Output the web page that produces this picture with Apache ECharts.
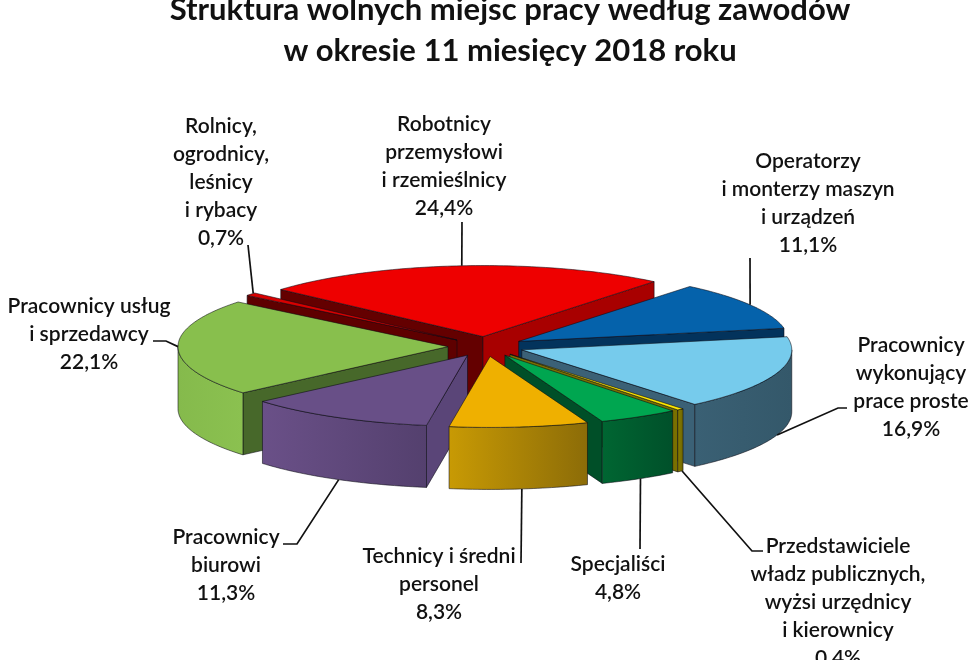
<!DOCTYPE html>
<html><head><meta charset="utf-8">
<style>html,body{margin:0;padding:0;background:#fff}#c{width:980px;height:660px}</style>
<script src="https://cdn.jsdelivr.net/npm/echarts@6/dist/echarts.min.js"></script>
</head><body><div id="c"></div>
<script>
// ---- data ----
const categories = [
  'Robotnicy\nprzemysłowi\ni rzemieślnicy',
  'Operatorzy\ni monterzy maszyn\ni urządzeń',
  'Pracownicy\nwykonujący\nprace proste',
  'Przedstawiciele\nwładz publicznych,\nwyżsi urzędnicy\ni kierownicy',
  'Specjaliści',
  'Technicy i średni\npersonel',
  'Pracownicy\nbiurowi',
  'Pracownicy usług\ni sprzedawcy',
  'Rolnicy,\nogrodnicy,\nleśnicy\ni rybacy'
];
const shares = [24.4, 11.1, 16.9, 0.4, 4.8, 8.3, 11.3, 22.1, 0.7];
const titleLines = ['Struktura wolnych miejsc pracy według zawodów', 'w okresie 11 miesięcy 2018 roku'];

// ---- styling and layout ----
const topColors   = ['#ee0000','#0562ab','#76cbec','#ffe800','#00a650','#efb000','#684f87','#88bf4d','#d80000'];
const wallColors  = ['#a80000','#03335c','#3b6176','#7a7000','#004f28','#8a6a08','#5a4578','#47682a','#5e0000'];
const leftWall    = ['#640000','#03335c','#3b6176','#7a7000','#004f28','#8a6a08','#5a4578','#47682a','#5e0000'];
const outerLeft   = ['#a80000','#03335c','#3a6074','#8a7e00','#006632','#c89a04','#6a5088','#85ba4c','#5e0000'];
const outerRight  = ['#a80000','#03335c','#34586a','#6e6500','#00502a','#8c6c08','#54406e','#8bc150','#5e0000'];
const paintOrder  = [0, 8, 1, 7, 2, 3, 6, 4, 5];
const CX = 486, CY = 346.5, RX = 270, RY = 71, DEPTH = 62, EXPLODE = 38, START = -48.5;
const labelCentres = [[444,166],[808,203],[911,387],[838,602],[618,578],[439,584],[226,565],[89,334],[221,182]];
const leaderPaths = {
  0:[[462,222]], 1:[[750,258]], 2:[[847,408],[838,408]], 3:[[763,551],[752,551]],
  4:[[640,549]], 5:[[521,563]], 6:[[283,544],[297,544]], 7:[[153,341],[166,341]], 8:[[248,245]]
};
const leaderAnchors = {
  0:[-4.5,0], 1:[59,0], 2:[109,DEPTH], 3:[140.4,DEPTH], 4:[149.85,DEPTH], 5:[173.25,DEPTH], 6:[208.5,DEPTH], 7:[270,0], 8:[311,0]
};
const FONT = '600 21px Lato, "Noto Sans", sans-serif';

const total = shares.reduce((a, b) => a + b, 0);
const spans = [];
let acc = START;
shares.forEach(v => { const d = v / total * 360; spans.push([acc, acc + d]); acc += d; });
const rad = d => d * Math.PI / 180;
function tipOf(i) {
  const m = rad((spans[i][0] + spans[i][1]) / 2);
  return [CX + EXPLODE * Math.sin(m), CY - EXPLODE * (RY / RX) * Math.cos(m)];
}
function rimPoint(tip, t, dy) {
  return [tip[0] + RX * Math.sin(rad(t)), tip[1] - RY * Math.cos(rad(t)) + (dy || 0)];
}
function arc(tip, a, b, dy) {
  const pts = [], n = Math.max(2, Math.ceil(Math.abs(b - a)));
  for (let k = 0; k <= n; k++) pts.push(rimPoint(tip, a + (b - a) * k / n, dy));
  return pts;
}
const edge = { stroke: 'rgba(10,10,20,.8)', lineWidth: 0.7 };
function poly(points, fill) {
  return { type: 'polygon', shape: { points }, style: Object.assign({ fill }, edge) };
}

function renderSlice(params) {
  const i = paintOrder[params.dataIndex];
  const [a, b] = spans[i];
  const tip = tipOf(i);
  const kids = [];
  const wall = (t, col) => {
    const p = rimPoint(tip, t);
    kids.push(poly([tip, p, [p[0], p[1] + DEPTH], [tip[0], tip[1] + DEPTH]], col));
  };
  // only the cut faces turned towards the viewer are drawn
  if (Math.sin(rad(a)) < 0) wall(a, leftWall[i]);
  if (Math.sin(rad(b)) > 0) wall(b, wallColors[i]);
  const oa = Math.max(a, 90), ob = Math.min(b, 270);
  if (ob > oa) {
    const pts = arc(tip, oa, ob, 0).concat(arc(tip, ob, oa, DEPTH));
    kids.push(poly(pts, { type: 'linear', x: 0, y: 0, x2: 1, y2: 0,
      colorStops: [{offset:0,color:outerLeft[i]},{offset:1,color:outerRight[i]}] }));
  }
  kids.push(poly([tip].concat(arc(tip, a, b, 0)), topColors[i]));
  return { type: 'group', children: kids };
}

function renderLabel(params) {
  const i = params.dataIndex;
  const anchor = leaderAnchors[i];
  const tip = tipOf(i);
  const start = rimPoint(tip, anchor[0], anchor[1]);
  const pts = leaderPaths[i].concat([start]);
  const label = categories[i] + '\n' + shares[i].toFixed(1).replace('.', ',') + '%';
  return { type: 'group', children: [
    { type: 'polyline', shape: { points: pts }, style: { fill: 'none', stroke: '#111', lineWidth: 1.7 } },
    { type: 'text', style: { text: label, x: labelCentres[i][0], y: labelCentres[i][1],
      align: 'center', verticalAlign: 'middle', font: FONT, lineHeight: 28, fill: '#111' } }
  ] };
}

const chart = echarts.init(document.getElementById('c'), null, { renderer: 'canvas' });
chart.setOption({
  animation: false,
  backgroundColor: '#fff',
  title: {
    text: titleLines.join('\n'), left: 505, top: -16, textAlign: 'center',
    textStyle: { fontFamily: 'Lato, "Noto Sans", sans-serif', fontWeight: 700, fontSize: 31, lineHeight: 41, color: '#111', align: 'center' }
  },
  series: [
    { type: 'custom', coordinateSystem: 'none', silent: true, clip: false, z: 2,
      data: paintOrder.map(i => shares[i]), renderItem: renderSlice },
    { type: 'custom', coordinateSystem: 'none', silent: true, clip: false, z: 3,
      data: shares, renderItem: renderLabel }
  ]
});
</script></body></html>
